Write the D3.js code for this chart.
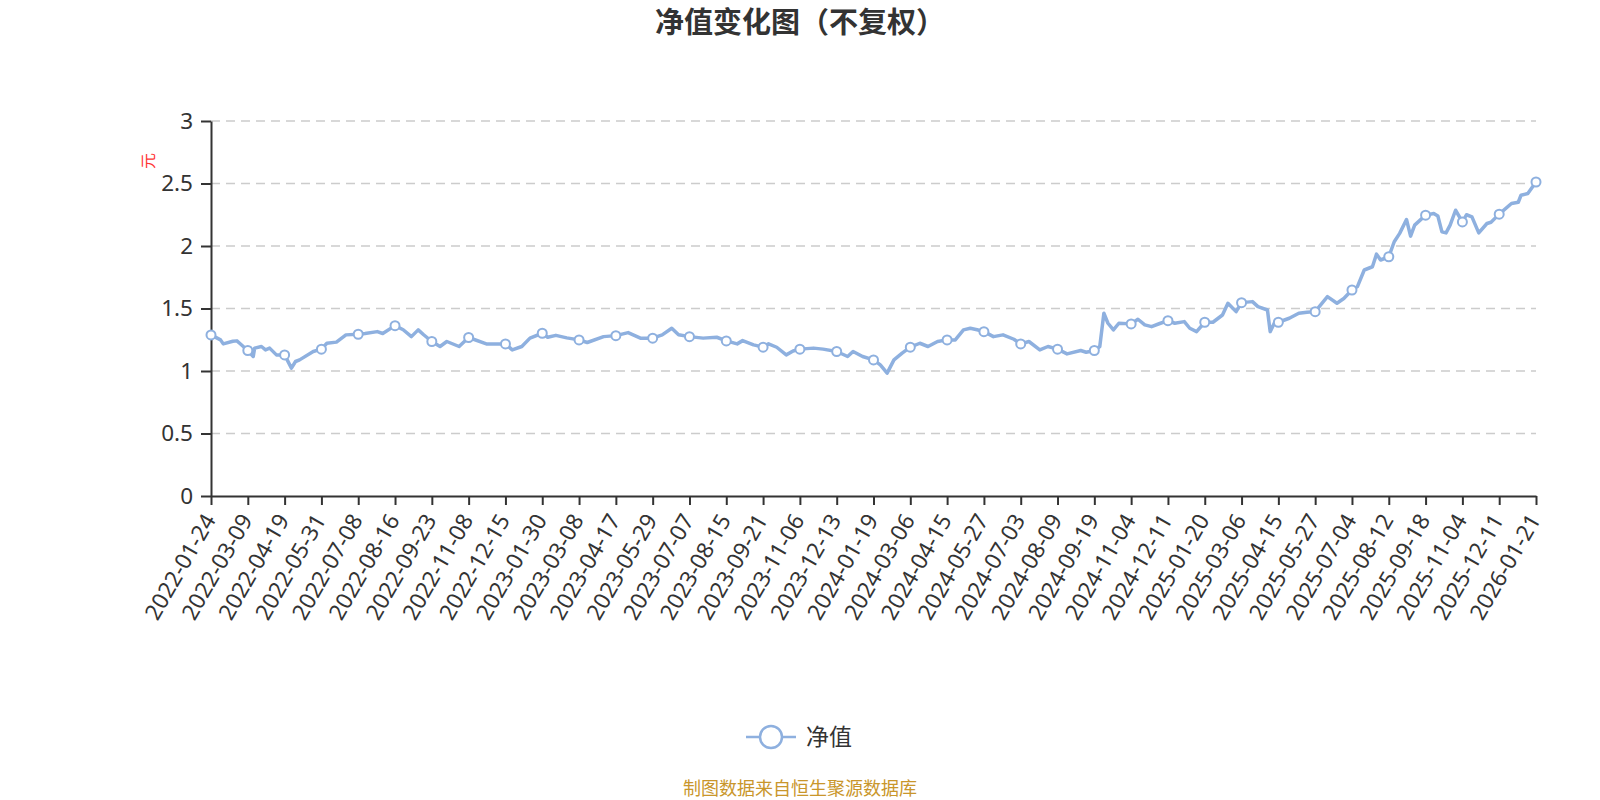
<!DOCTYPE html>
<html>
<head>
<meta charset="utf-8">
<script src="https://cdn.jsdelivr.net/npm/d3@7"></script>
<style>
  body { margin: 0; background: #fff; }
  svg { display: block; font-family: "Noto Sans", "Noto Sans CJK SC", sans-serif; }
</style>
</head>
<body>
<svg id="chart" width="1600" height="800"></svg>
<script>
// Tick labels on the category axis (one every 27 trading days)
const tickLabels = [
  "2022-01-24", "2022-03-09", "2022-04-19", "2022-05-31", "2022-07-08", "2022-08-16",
  "2022-09-23", "2022-11-08", "2022-12-15", "2023-01-30", "2023-03-08", "2023-04-17",
  "2023-05-29", "2023-07-07", "2023-08-15", "2023-09-21", "2023-11-06", "2023-12-13",
  "2024-01-19", "2024-03-06", "2024-04-15", "2024-05-27", "2024-07-03", "2024-08-09",
  "2024-09-19", "2024-11-04", "2024-12-11", "2025-01-20", "2025-03-06", "2025-04-15",
  "2025-05-27", "2025-07-04", "2025-08-12", "2025-09-18", "2025-11-04", "2025-12-11",
  "2026-01-21"
];
const tickStep = 27;

const dayIdx = [
  0, 7, 9, 16, 19, 21, 27, 31, 32, 37, 40, 43, 48, 54, 59, 62, 65, 75, 81, 85,
  92, 99, 108, 113, 122, 126, 135, 141, 147, 152, 156, 162, 168, 173, 182, 189, 202, 216, 221, 228,
  234, 243, 247, 253, 261, 270, 276, 288, 297, 306, 315, 324, 331, 338, 343, 351, 361, 371, 378, 386,
  390, 398, 405, 409, 415, 422, 427, 432, 442, 449, 459, 467, 471, 478, 486, 491, 496, 501, 507, 513,
  520, 526, 533, 540, 546, 552, 557, 562, 567, 574, 581, 589, 594, 600, 608, 614, 621, 628, 638, 642,
  648, 652, 655, 658, 662, 666, 675, 680, 685, 690, 696, 702, 707, 714, 718, 723, 729, 735, 742, 746,
  752, 756, 764, 768, 775, 777, 780, 783, 791, 798, 804, 810, 819, 826, 831, 837, 841, 846, 852, 855,
  858, 864, 868, 872, 877, 880, 883, 887, 891, 897, 900, 903, 906, 909, 913, 918, 921, 925, 930, 936,
  939, 945, 954, 959, 961, 966, 972
];
const navValue = [
  1.289, 1.249, 1.217, 1.238, 1.241, 1.222, 1.164, 1.116, 1.183, 1.196, 1.169, 1.183, 1.129, 1.129, 1.023, 1.076, 1.089, 1.156, 1.175, 1.222,
  1.231, 1.289, 1.294, 1.300, 1.315, 1.300, 1.363, 1.330, 1.275, 1.329, 1.290, 1.236, 1.196, 1.236, 1.196, 1.268, 1.217, 1.217, 1.169, 1.196,
  1.263, 1.302, 1.270, 1.285, 1.265, 1.249, 1.228, 1.275, 1.283, 1.307, 1.263, 1.263, 1.289, 1.342, 1.290, 1.275, 1.263, 1.270, 1.241, 1.217,
  1.243, 1.209, 1.191, 1.217, 1.190, 1.129, 1.160, 1.175, 1.183, 1.175, 1.156, 1.116, 1.156, 1.116, 1.089, 1.049, 0.983, 1.089, 1.143, 1.191,
  1.222, 1.196, 1.236, 1.249, 1.249, 1.329, 1.342, 1.330, 1.315, 1.275, 1.289, 1.254, 1.217, 1.236, 1.169, 1.196, 1.175, 1.137, 1.164, 1.150,
  1.164, 1.196, 1.462, 1.382, 1.329, 1.382, 1.377, 1.414, 1.369, 1.355, 1.380, 1.403, 1.382, 1.395, 1.342, 1.315, 1.390, 1.390, 1.448, 1.542,
  1.475, 1.547, 1.555, 1.515, 1.488, 1.315, 1.382, 1.390, 1.422, 1.462, 1.470, 1.475, 1.595, 1.542, 1.580, 1.648, 1.675, 1.808, 1.834, 1.935,
  1.888, 1.914, 2.034, 2.101, 2.212, 2.079, 2.167, 2.207, 2.247, 2.260, 2.240, 2.113, 2.105, 2.167, 2.286, 2.193, 2.250, 2.233, 2.105, 2.180,
  2.190, 2.255, 2.340, 2.350, 2.406, 2.420, 2.512
];
const yTicks = [0, 0.5, 1, 1.5, 2, 2.5, 3];

const lineColor = "#8eb0df";
const textColor = "#333";
const latinFont = "'Noto Sans', 'Open Sans', sans-serif";
const cjkFont = "'Noto Sans CJK SC', sans-serif";

let margin = { top: 121, right: 64, bottom: 304, left: 211 },
  width = 1600 - margin.left - margin.right,
  height = 800 - margin.top - margin.bottom;

const data = dayIdx.map((d, i) => ({ idx: d, value: navValue[i] }));
const lastIdx = tickStep * (tickLabels.length - 1);
const tickIdx = tickLabels.map((d, i) => i * tickStep);

var svg = d3.select("#chart");

var g = svg
  .append("g")
  .attr("transform", "translate(" + margin.left + "," + margin.top + ")");

var xScale = d3.scaleLinear().domain([0, lastIdx]).range([0, width]);
var yScale = d3.scaleLinear().domain([0, 3]).range([height, 0]);

// Title
svg
  .append("text")
  .attr("x", 800)
  .attr("y", 33)
  .attr("text-anchor", "middle")
  .style("font-family", cjkFont)
  .style("font-size", "29px")
  .style("font-weight", "bold")
  .style("fill", textColor)
  .text("净值变化图（不复权）");

// Dashed grid lines
g.append("g")
  .selectAll("line")
  .data(yTicks.filter(d => d > 0))
  .enter()
  .append("line")
  .attr("x1", 0)
  .attr("x2", width)
  .attr("y1", d => yScale(d))
  .attr("y2", d => yScale(d))
  .attr("stroke", "#ccc")
  .attr("stroke-width", 1.6)
  .attr("stroke-dasharray", "9,6");

// Y axis
var yAxis = g
  .append("g")
  .call(
    d3.axisLeft(yScale)
      .tickValues(yTicks)
      .tickSize(10)
      .tickSizeOuter(0)
      .tickPadding(8)
      .tickFormat(d => String(d))
  );
yAxis.select(".domain").attr("stroke", textColor).attr("stroke-width", 2);
yAxis.selectAll(".tick line").attr("stroke", textColor).attr("stroke-width", 2);
yAxis
  .selectAll(".tick text")
  .style("font-family", latinFont)
  .style("font-size", "22.5px")
  .style("fill", textColor);

// Y axis name
svg
  .append("text")
  .attr("transform", "translate(154,161) rotate(-90)")
  .attr("text-anchor", "middle")
  .style("font-family", cjkFont)
  .style("font-size", "16px")
  .style("fill", "#ff3333")
  .text("元");

// X axis
var xAxis = g
  .append("g")
  .attr("transform", "translate(0," + height + ")")
  .call(
    d3.axisBottom(xScale)
      .tickValues(tickIdx)
      .tickSize(9)
      .tickSizeOuter(0)
      .tickFormat((d, i) => tickLabels[i])
  );
xAxis.select(".domain").attr("stroke", textColor).attr("stroke-width", 2);
xAxis.selectAll(".tick line").attr("stroke", textColor).attr("stroke-width", 2);
xAxis
  .selectAll(".tick text")
  .style("font-family", latinFont)
  .style("font-size", "22.5px")
  .style("fill", textColor)
  .attr("text-anchor", "end")
  .attr("dy", "0.35em")
  .attr("transform", "translate(-2,20) rotate(-60)")
  .attr("y", 0)
  .attr("x", 0);

// Line
var line = d3
  .line()
  .x(d => xScale(d.idx))
  .y(d => yScale(d.value));

g.append("path")
  .datum(data)
  .attr("fill", "none")
  .attr("stroke", lineColor)
  .attr("stroke-width", 3.5)
  .attr("stroke-linejoin", "round")
  .attr("d", line);

// Hollow markers at every labelled day
g.append("g")
  .selectAll("circle")
  .data(data.filter(d => d.idx % tickStep === 0))
  .enter()
  .append("circle")
  .attr("cx", d => xScale(d.idx))
  .attr("cy", d => yScale(d.value))
  .attr("r", 4.5)
  .attr("fill", "#fff")
  .attr("stroke", lineColor)
  .attr("stroke-width", 2);

// Legend
var legend = svg.append("g").attr("transform", "translate(771,737)");
legend
  .append("line")
  .attr("x1", -25)
  .attr("x2", 25)
  .attr("stroke", lineColor)
  .attr("stroke-width", 2.5);
legend
  .append("circle")
  .attr("r", 11)
  .attr("fill", "#fff")
  .attr("stroke", lineColor)
  .attr("stroke-width", 2.5);
legend
  .append("text")
  .attr("x", 35)
  .attr("dy", "0.35em")
  .style("font-family", cjkFont)
  .style("font-size", "23px")
  .style("fill", textColor)
  .text("净值");

// Source note
svg
  .append("text")
  .attr("x", 800)
  .attr("y", 795)
  .attr("text-anchor", "middle")
  .style("font-family", cjkFont)
  .style("font-size", "18px")
  .style("fill", "#c9962b")
  .text("制图数据来自恒生聚源数据库");
</script>
</body>
</html>
